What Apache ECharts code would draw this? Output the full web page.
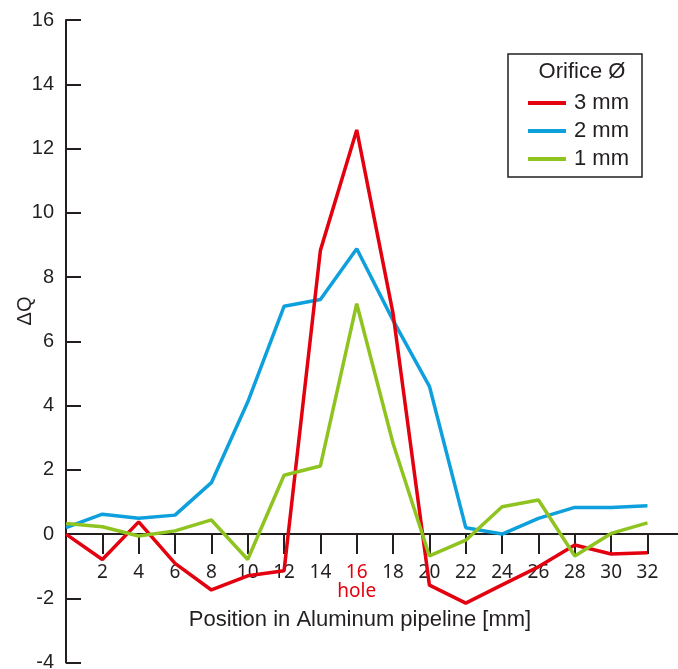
<!DOCTYPE html>
<html>
<head>
<meta charset="utf-8">
<script src="https://cdn.jsdelivr.net/npm/echarts@6/dist/echarts.min.js"></script>
<style>
    html, body { margin: 0; padding: 0; background: #fff; }
    #chart { width: 678px; height: 669px; }
</style>
</head>
<body>
<div id="chart"></div>
<script>
    // positions along the pipeline [mm]
    var positions = [0, 2, 4, 6, 8, 10, 12, 14, 16, 18, 20, 22, 24, 26, 28, 30, 32];
    // delta Q for each orifice size
    var orifice3 = [0, -0.79, 0.38, -0.91, -1.74, -1.3, -1.14, 8.83, 12.58, 6.86, -1.59, -2.15, -1.58, -1.02, -0.34, -0.62, -0.58];
    var orifice2 = [0.2, 0.62, 0.49, 0.59, 1.6, 4.11, 7.09, 7.3, 8.88, 6.65, 4.6, 0.2, 0, 0.49, 0.83, 0.83, 0.88];
    var orifice1 = [0.33, 0.23, -0.06, 0.1, 0.44, -0.79, 1.83, 2.12, 7.17, 2.82, -0.68, -0.19, 0.85, 1.06, -0.68, 0.02, 0.35];
    var xTicks = [2, 4, 6, 8, 10, 12, 14, 16, 18, 20, 22, 24, 26, 28, 30, 32];
    var seriesNames = ['3 mm', '2 mm', '1 mm'];

    var ink = '#231f20';
    var colors = ['#e3000f', '#0ea0dc', '#8fc31f'];

    var yMin = -4, yMax = 16;
    var gridTop = 20, gridBottom = 6.4;
    // lift the x axis from the grid bottom up to y = 0
    var plotH = 669 - gridTop - gridBottom;
    var zeroOffset = -plotH * (0 - yMin) / (yMax - yMin);

    function pairs(ys) {
        return positions.map(function (x, i) { return [x, ys[i]]; });
    }

    var chart = echarts.init(document.getElementById('chart'));
    chart.setOption({
        animation: false,
        color: colors,
        grid: { left: 66, right: 0, top: gridTop, bottom: gridBottom, outerBoundsMode: 'none' },
        xAxis: {
            type: 'value',
            min: 0,
            max: 33.68,
            offset: zeroOffset,
            splitLine: { show: false },
            axisLine: { onZero: false, lineStyle: { color: ink, width: 2 } },
            axisTick: {
                inside: false, length: 20, customValues: xTicks,
                lineStyle: { color: ink, width: 2 }
            },
            axisLabel: {
                customValues: xTicks,
                margin: 29,
                fontFamily: 'Noto Sans',
                fontSize: 19,
                color: ink,
                formatter: function (v) {
                    if (v === 16) return '{hole|16}\n{hole|hole}';
                    return v;
                },
                rich: {
                    hole: { color: '#e3000f', fontFamily: 'Noto Sans', fontSize: 19, lineHeight: 19 }
                }
            }
        },
        yAxis: {
            type: 'value',
            min: yMin,
            max: yMax,
            interval: 2,
            splitLine: { show: false },
            axisLine: { lineStyle: { color: ink, width: 2 } },
            axisTick: { inside: true, length: 15, lineStyle: { color: ink, width: 2 } },
            axisLabel: {
                margin: 12,
                fontFamily: 'Liberation Sans',
                fontSize: 20,
                color: ink
            }
        },
        legend: {
            orient: 'vertical',
            left: 523,
            top: 87,
            icon: 'rect',
            itemWidth: 38,
            itemHeight: 4,
            itemGap: 6,
            data: seriesNames,
            textStyle: {
                fontFamily: 'Liberation Sans',
                fontSize: 22,
                lineHeight: 22,
                color: ink,
                padding: [0, 0, 0, 3]
            }
        },
        graphic: [
            {
                type: 'rect',
                shape: { x: 508, y: 54, width: 134, height: 123 },
                style: { fill: 'none', stroke: ink, lineWidth: 1.5 },
                z: 10
            },
            {
                type: 'text',
                x: 582, y: 72,
                style: {
                    text: 'Orifice Ø', fill: ink,
                    font: '22px "Liberation Sans"',
                    textAlign: 'center', textVerticalAlign: 'middle'
                },
                z: 10
            },
            {
                type: 'text',
                x: 360, y: 620,
                style: {
                    text: 'Position in Aluminum pipeline [mm]', fill: ink,
                    font: '22px "Liberation Sans"',
                    textAlign: 'center', textVerticalAlign: 'middle'
                }
            },
            {
                type: 'text',
                x: 25, y: 311,
                rotation: Math.PI / 2,
                style: {
                    text: 'ΔQ', fill: ink,
                    font: '20px "Liberation Sans"',
                    textAlign: 'center', textVerticalAlign: 'middle'
                }
            }
        ],
        series: [
            {
                name: seriesNames[0], type: 'line', symbol: 'none',
                lineStyle: { width: 3.5 }, data: pairs(orifice3), z: 3
            },
            {
                name: seriesNames[1], type: 'line', symbol: 'none',
                lineStyle: { width: 3.5 }, data: pairs(orifice2), z: 2
            },
            {
                name: seriesNames[2], type: 'line', symbol: 'none',
                lineStyle: { width: 3.5 }, data: pairs(orifice1), z: 4
            }
        ]
    });
</script>
</body>
</html>
